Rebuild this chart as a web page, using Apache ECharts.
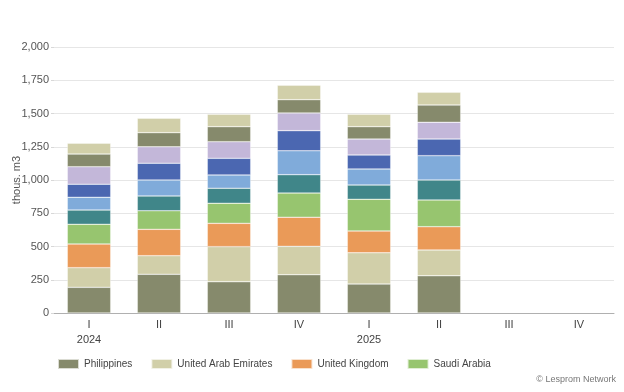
<!DOCTYPE html>
<html>
<head>
<meta charset="utf-8">
<script src="https://cdn.jsdelivr.net/npm/echarts@6/dist/echarts.min.js"></script>
<style>
html,body{margin:0;padding:0;background:#fff;}
#c{width:624px;height:392px;}
</style>
</head>
<body>
<div id="c"></div>
<script>
const quarters = ['I', 'II', 'III', 'IV', 'I', 'II', 'III', 'IV'];
const years = ['2024', '', '', '', '2025', '', '', ''];
const yAxisTitle = 'thous. m3';

const seriesNames = ['Philippines', 'United Arab Emirates', 'United Kingdom', 'Saudi Arabia',
  'Series 5', 'Series 6', 'Series 7', 'Series 8', 'Series 9', 'Series 10'];
const legendNames = ['Philippines', 'United Arab Emirates', 'United Kingdom', 'Saudi Arabia'];

const philippines = [193, 291, 235, 288, 218, 280, null, null];
const uae         = [148, 140, 264, 213, 235, 194, null, null];
const uk          = [178, 198, 175, 219, 164, 175, null, null];
const saudi       = [148, 140, 151, 182, 238, 201, null, null];
const series5     = [107, 111, 113, 138, 107, 150, null, null];
const series6     = [96, 120, 100, 180, 121, 183, null, null];
const series7     = [98, 126, 125, 151, 105, 125, null, null];
const series8     = [132, 124, 125, 133, 120, 126, null, null];
const series9     = [95, 106, 113, 100, 93, 130, null, null];
const series10    = [81, 108, 93, 108, 93, 95, null, null];

const yTicks = { min: 0, max: 2000, interval: 250 };

const colors = ['#868a6c', '#d1cfa9', '#ea9a58', '#97c56f', '#408689', '#80abda', '#4b67b1', '#c3b7d9', '#868a6c', '#d1cfa9'];
const allData = [philippines, uae, uk, saudi, series5, series6, series7, series8, series9, series10];
const FONT = 'Liberation Sans, Arial, sans-serif';

const chart = echarts.init(document.getElementById('c'), null, { renderer: 'canvas' });
chart.setOption({
  animation: false,
  color: colors,
  grid: { left: 54, right: 10, top: 47, bottom: 79, outerBoundsMode: 'none', containLabel: false },
  legend: {
    data: legendNames,
    left: 52,
    top: 353,
    itemWidth: 21,
    itemHeight: 10,
    itemGap: 18,
    icon: 'rect',
    textStyle: { color: '#444', fontSize: 10, fontFamily: FONT }
  },
  graphic: [{
    type: 'text',
    right: 8,
    top: 375,
    style: { text: '© Lesprom Network', fill: '#777', fontSize: 9, fontFamily: FONT }
  }, {
    type: 'text',
    x: 17,
    y: 180,
    rotation: Math.PI / 2,
    style: { text: yAxisTitle, fill: '#555', fontSize: 11, fontFamily: FONT, align: 'center', verticalAlign: 'middle' }
  }],
  xAxis: {
    type: 'category',
    data: quarters.map((q, i) => q + '\n' + years[i]),
    axisLine: { lineStyle: { color: '#b0b0b0', width: 1 } },
    axisTick: { show: false },
    axisLabel: {
      color: '#444', fontSize: 11, margin: 4, lineHeight: 15,
      fontFamily: FONT
    }
  },
  yAxis: {
    type: 'value',
    min: yTicks.min, max: yTicks.max, interval: yTicks.interval,
    axisLine: { show: false },
    axisTick: { show: true, length: 3, lineStyle: { color: '#d8d8d8' } },
    splitLine: { lineStyle: { color: '#e6e6e6' } },
    axisLabel: {
      color: '#555', fontSize: 11, margin: 5,
      fontFamily: FONT,
      formatter: v => v.toLocaleString('en-US')
    }
  },
  series: allData.map((d, i) => ({
    name: seriesNames[i],
    type: 'bar',
    stack: 'total',
    barWidth: '62%',
    data: d,
    itemStyle: { color: colors[i], borderColor: 'rgba(255,255,255,0.7)', borderWidth: 0.5 }
  }))
});
</script>
</body>
</html>
